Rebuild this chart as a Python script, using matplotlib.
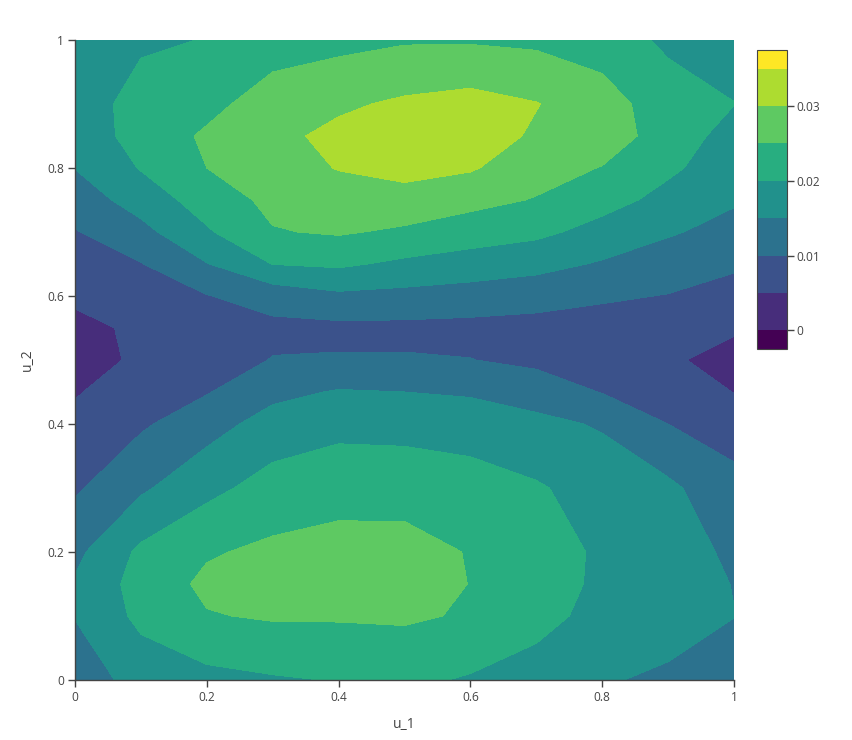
import matplotlib
matplotlib.use("Agg")
import matplotlib.pyplot as plt
import numpy as np
from matplotlib.colors import ListedColormap, BoundaryNorm
from matplotlib.cm import ScalarMappable
from matplotlib.ticker import NullLocator

plt.rcParams["font.family"] = ["Open Sans", "DejaVu Sans"]
TXT = "#444444"

# grid
u1 = [0.0, 0.1, 0.2, 0.3, 0.4, 0.5, 0.6, 0.7, 0.8, 0.9, 1.0]
u2 = [0.0, 0.1, 0.15, 0.2, 0.3, 0.4, 0.45, 0.5, 0.55, 0.6, 0.65, 0.7, 0.75, 0.8, 0.85, 0.9, 1.0]
density = [
    [0.0120, 0.0170, 0.0185, 0.0195, 0.0202, 0.0210, 0.0195, 0.0180, 0.0155, 0.0140, 0.0120],
    [0.0152, 0.0212, 0.0247, 0.0255, 0.0255, 0.0257, 0.0245, 0.0215, 0.0185, 0.0175, 0.0151],
    [0.0155, 0.0220, 0.0260, 0.0265, 0.0268, 0.0270, 0.0249, 0.0225, 0.0190, 0.0180, 0.0148],
    [0.0138, 0.0210, 0.0245, 0.0260, 0.0270, 0.0270, 0.0247, 0.0230, 0.0190, 0.0180, 0.0138],
    [0.0093, 0.0142, 0.0186, 0.0220, 0.0229, 0.0228, 0.0220, 0.0205, 0.0180, 0.0160, 0.0115],
    [0.0063, 0.0093, 0.0130, 0.0170, 0.0187, 0.0185, 0.0179, 0.0163, 0.0145, 0.0100, 0.0078],
    [0.0046, 0.0078, 0.0097, 0.0137, 0.0154, 0.0150, 0.0144, 0.0127, 0.0098, 0.0078, 0.0049],
    [0.0020, 0.0062, 0.0075, 0.0102, 0.0104, 0.0104, 0.0101, 0.0089, 0.0077, 0.0058, 0.0030],
    [0.0035, 0.0060, 0.0083, 0.0088, 0.0088, 0.0088, 0.0086, 0.0083, 0.0078, 0.0068, 0.0057],
    [0.0060, 0.0085, 0.0098, 0.0120, 0.0140, 0.0135, 0.0128, 0.0119, 0.0107, 0.0098, 0.0082],
    [0.0078, 0.0098, 0.0148, 0.0201, 0.0208, 0.0190, 0.0178, 0.0166, 0.0145, 0.0126, 0.0107],
    [0.0097, 0.0135, 0.0194, 0.0247, 0.0255, 0.0242, 0.0224, 0.0211, 0.0183, 0.0155, 0.0134],
    [0.0124, 0.0171, 0.0223, 0.0262, 0.0279, 0.0282, 0.0265, 0.0247, 0.0217, 0.0186, 0.0155],
    [0.0151, 0.0203, 0.0250, 0.0280, 0.0302, 0.0315, 0.0305, 0.0270, 0.0248, 0.0208, 0.0175],
    [0.0160, 0.0225, 0.0256, 0.0288, 0.0312, 0.0330, 0.0325, 0.0293, 0.0275, 0.0228, 0.0180],
    [0.0165, 0.0225, 0.0238, 0.0270, 0.0292, 0.0308, 0.0318, 0.0302, 0.0270, 0.0225, 0.0201],
    [0.0175, 0.0190, 0.0202, 0.0230, 0.0235, 0.0245, 0.0245, 0.0240, 0.0228, 0.0190, 0.0175],
]
levels = [-0.005, 0.0, 0.005, 0.01, 0.015, 0.02, 0.025, 0.03, 0.035, 0.04]
cbar_bounds = [-0.0025, 0.0, 0.005, 0.01, 0.015, 0.02, 0.025, 0.03, 0.035, 0.0375]
cbar_ticks = [0.0, 0.01, 0.02, 0.03]
cbar_labels = ["0", "0.01", "0.02", "0.03"]
axis_ticks = [0, 0.2, 0.4, 0.6, 0.8, 1]
axis_labels = ["0", "0.2", "0.4", "0.6", "0.8", "1"]

cmap = ListedColormap(plt.cm.viridis(np.linspace(0, 1, len(levels) - 1)))
norm = BoundaryNorm(levels, cmap.N)
cb_norm = BoundaryNorm(cbar_bounds, cmap.N)

fig = plt.figure(figsize=(8.53, 7.40), dpi=100)
ax = fig.add_axes([75 / 853, 60 / 740, 659 / 853, 640 / 740])
ax.contourf(u1, u2, density, levels=levels, cmap=cmap, norm=norm)
ax.set_xlim(0, 1)
ax.set_ylim(0, 1)

for s in ["top", "right"]:
    ax.spines[s].set_visible(False)
for s in ["bottom", "left"]:
    ax.spines[s].set_color(TXT)
    ax.spines[s].set_linewidth(1)
ax.set_xticks(axis_ticks)
ax.set_xticklabels(axis_labels)
ax.set_yticks(axis_ticks)
ax.set_yticklabels(axis_labels)
ax.tick_params(direction="out", length=5, width=1, color=TXT, labelcolor=TXT,
               labelsize=8.6, pad=3)
ax.set_xlabel("u_1", fontsize=10, color=TXT, labelpad=9)
ax.set_ylabel("u_2", fontsize=10, color=TXT, labelpad=9)

# colorbar: plotly shows half a band beyond each end
cax = fig.add_axes([757 / 853, (740 - 349) / 740, 30 / 853, 299 / 740])
cb = fig.colorbar(ScalarMappable(norm=cb_norm, cmap=cmap), cax=cax,
                  ticks=cbar_ticks, spacing="proportional")
cb.set_ticklabels(cbar_labels)
cax.yaxis.set_minor_locator(NullLocator())
cb.outline.set_edgecolor(TXT)
cb.outline.set_linewidth(0.8)
cax.tick_params(direction="out", length=5, width=1, color=TXT, labelcolor=TXT,
                labelsize=8.6, pad=2)

fig.savefig("out.png", dpi=100, facecolor="white")
